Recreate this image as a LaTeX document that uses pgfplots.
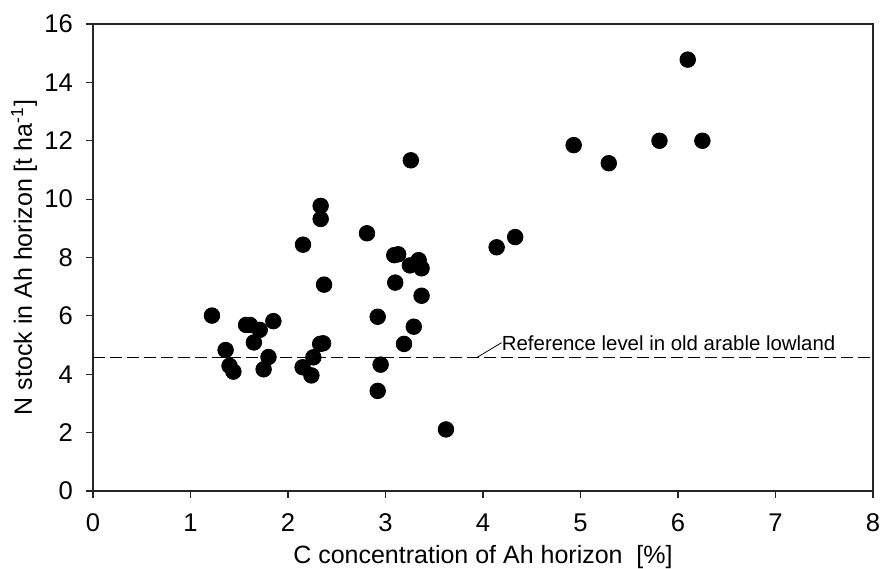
\documentclass[border=0pt]{standalone}
\usepackage{pgfplots}
\pgfplotsset{compat=1.18}
\usepackage{fontspec}
\setmainfont{Liberation Sans}
\begin{document}
\begin{tikzpicture}
\begin{axis}[
  scale only axis, width=390pt, height=233.5pt,
  xmin=0, xmax=8, ymin=0, ymax=16,
  xtick={0,1,...,8}, ytick={0,2,...,16},
  tick pos=left, tick align=outside, major tick length=3.5pt,
  axis line style={line width=0.6pt, black!85},
  every tick/.style={line width=0.6pt, black!85},
  /pgf/number format/assume math mode=true,
  ticklabel style={font=\fontsize{12.8}{14}\selectfont},
  xticklabel style={yshift=-4.5pt},
  yticklabel style={anchor=east, xshift=-3pt},
  xlabel={C concentration of Ah horizon\ \ [\%]},
  ylabel={N stock in Ah horizon [t ha\textsuperscript{-1}]},
  label style={font=\fontsize{12.5}{14}\selectfont},
  xlabel style={at={(axis description cs:0.5,0)}, anchor=center, yshift=-33pt},
  ylabel style={at={(axis description cs:0,0.5)}, anchor=center, yshift=34.5pt},
  clip=false,
]
\addplot[only marks, mark=*, mark size=3.9pt, black] coordinates {
(1.22,6.01) (1.36,4.83) (1.40,4.29) (1.44,4.09) (1.57,5.69) (1.61,5.69)
(1.65,5.09) (1.71,5.52) (1.75,4.17) (1.80,4.59) (1.85,5.82)
(2.15,4.24) (2.154,8.44) (2.24,3.96) (2.26,4.58) (2.33,5.04) (2.36,5.06)
(2.335,9.77) (2.335,9.32) (2.37,7.07)
(2.81,8.83) (2.92,5.97) (2.92,3.43) (2.95,4.33)
(3.09,8.08) (3.13,8.11) (3.10,7.14) (3.19,5.04) (3.25,7.73) (3.26,11.33)
(3.29,5.63) (3.34,7.91) (3.37,7.63) (3.37,6.69) (3.62,2.11)
(4.14,8.35) (4.33,8.70) (4.93,11.85) (5.29,11.23) (5.81,12.00) (6.10,14.78) (6.25,12.00)
};
\addplot[black, line width=0.6pt, dash pattern=on 6pt off 2.5pt] coordinates {(0,4.57) (8,4.57)};
\draw[black, line width=0.4pt] (axis cs:3.935,4.57) -- (axis cs:4.19,5.08);
\node[anchor=west, inner sep=0pt, font=\fontsize{10.2}{12}\selectfont] at (axis cs:4.19,5.08) {Reference level in old arable lowland};
\end{axis}
\pgfresetboundingbox
\path[use as bounding box] (current axis.south west) ++(-46.5pt,-38.5pt) rectangle ++(441pt,284pt);
\end{tikzpicture}
\end{document}
